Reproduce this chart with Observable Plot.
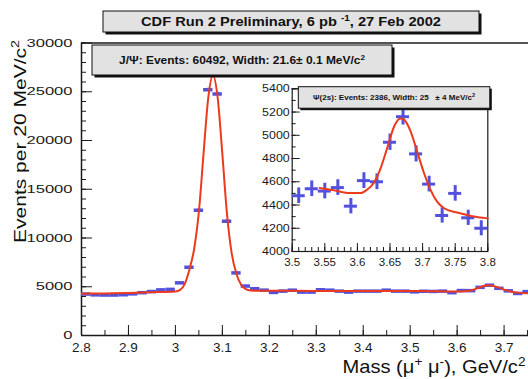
<!DOCTYPE html>
<html><head><meta charset="utf-8">
<script src="https://cdn.jsdelivr.net/npm/d3@7"></script>
<script src="https://cdn.jsdelivr.net/npm/@observablehq/plot@0.6"></script>
<style>
html,body{margin:0;padding:0;background:#fff;overflow:hidden;}
#wrap{position:relative;width:528px;height:379px;overflow:hidden;}
</style></head><body><div id="wrap"></div>
<script>
// ---- data ----
const massBins = [2.81,2.83,2.85,2.87,2.89,2.91,2.93,2.95,2.97,2.99,
  3.01,3.03,3.05,3.07,3.09,3.11,3.13,3.15,3.17,3.19,
  3.21,3.23,3.25,3.27,3.29,3.31,3.33,3.35,3.37,3.39,
  3.41,3.43,3.45,3.47,3.49,3.51,3.53,3.55,3.57,3.59,
  3.61,3.63,3.65,3.67,3.69,3.71,3.73,3.75,3.77,3.79];
const counts = [4250,4170,4150,4150,4180,4270,4390,4510,4680,4730,
  5400,7000,12850,25200,24780,11730,6420,5070,4800,4650,
  4420,4550,4650,4450,4450,4690,4650,4550,4450,4550,
  4550,4550,4650,4550,4550,4480,4540,4520,4550,4390,
  4610,4600,4940,5160,4840,4580,4310,4500,4290,4200];
const halfBin = 0.01;

// fit curve: J/psi region, then psi(2S) region
const jpsiFitMass = [2.80,2.85,2.90,2.95,3.00,3.01,3.02,3.03,3.04,3.05,3.06,3.07,3.08,3.09,3.10,3.11,3.12,3.13,3.14,3.15,3.16,3.18,3.25,3.35,3.45,3.52];
const jpsiFitVal  = [4280,4320,4370,4440,4520,4680,5300,6800,8900,12700,18700,24400,26700,24400,18600,12400,8400,6300,5200,4750,4620,4590,4580,4570,4560,4555];
const psiFitMass = [3.542,3.564,3.589,3.605,3.615,3.625,3.635,3.646,3.656,3.666,3.671,3.681,3.692,3.702,3.712,3.722,3.733,3.753,3.774,3.80];
const psiFitVal  = [4547,4527,4503,4503,4533,4590,4707,4896,5071,5144,5138,5042,4853,4678,4533,4431,4372,4335,4306,4285];

// ticks
const xMajor = [2.8,2.9,3.0,3.1,3.2,3.3,3.4,3.5,3.6,3.7];
const yMajor = [0,5000,10000,15000,20000,25000,30000];
const insetXMajor = [3.5,3.55,3.6,3.65,3.7,3.75,3.8];
const insetYMajor = [4000,4200,4400,4600,4800,5000,5200,5400];

// texts
const titleParts = ["CDF Run 2 Preliminary, 6 pb ", {sup:"-1"}, ", 27 Feb 2002"];
const statParts = ["J/\u03A8: Events: 60492, Width: 21.6\u00B1 0.1 MeV/c", {sup:"2"}];
const insetStatParts = ["\u03A8(2s): Events: 2386, Width: 25   \u00B1 4 MeV/c", {sup:"2"}];
const yTitleParts = ["Events per 20 MeV/c", {sup:"2"}];
const xTitleParts = ["Mass (\u03BC", {sup:"+"}, " \u03BC", {sup:"-"}, "), GeV/c", {sup:"2"}];

const FONT = "'Liberation Sans', Arial, Helvetica, sans-serif";
const BLUE = "#5252dc";
const RED = "#ec3a1c";
const INK = "#1a1a1a";
const BOXFILL = "#e2e2e2";

const pts = massBins.map((m, i) => ({m, n: counts[i], e: Math.sqrt(counts[i])}));
const fitAll = jpsiFitMass.map((m, i) => ({m, v: jpsiFitVal[i]}))
  .concat(psiFitMass.map((m, i) => ({m, v: psiFitVal[i]})));
const psiFit = psiFitMass.map((m, i) => ({m, v: psiFitVal[i]}));
const psiPts = pts.filter(d => d.m > 3.5 && d.m < 3.8);

const yMinor = d3.range(0, 30001, 1000);
const xMinor = d3.range(0, 20).map(i => 2.8 + i * 0.05);
const insetYMinor = d3.range(4000, 5401, 100);
const insetXMinor = d3.range(0, 31).map(i => 3.5 + i * 0.01);

// ---- main plot ----
const main = Plot.plot({
  width: 528, height: 379,
  marginLeft: 81, marginRight: 0, marginTop: 42.5, marginBottom: 44,
  x: {domain: [2.8, 3.752], axis: null},
  y: {domain: [0, 30000], axis: null},
  style: {fontFamily: FONT, background: "#fff", color: INK, overflow: "hidden"},
  marks: [
    Plot.axisY(yMinor, {tickSize: -5, fill: "none", stroke: INK, label: null}),
    Plot.axisY(yMajor, {tickSize: -11, fill: "none", stroke: INK, label: null}),
    Plot.axisY(yMajor, {tickSize: 0, tickPadding: 9, fontSize: 11.5, tickFormat: d => String(d), label: null}),
    Plot.axisX(xMinor, {tickSize: -5, fill: "none", stroke: INK, label: null}),
    Plot.axisX(xMajor, {tickSize: -10, fill: "none", stroke: INK, label: null}),
    Plot.axisX(xMajor, {tickSize: 0, tickPadding: 6.5, fontSize: 13.5, tickFormat: d => String(d), label: null}),
    Plot.ruleX([2.8], {stroke: INK, strokeWidth: 1.5}),
    Plot.ruleY([0, 30000], {stroke: INK, strokeWidth: 1.5}),
    Plot.ruleY(pts, {y: "n", x1: d => d.m - halfBin, x2: d => d.m + halfBin, stroke: BLUE, strokeWidth: 3.5, clip: true}),
    Plot.ruleX(pts, {x: "m", y1: d => d.n - d.e, y2: d => d.n + d.e, stroke: BLUE, strokeWidth: 3, clip: true}),
    Plot.line(fitAll, {x: "m", y: "v", stroke: RED, strokeWidth: 2, curve: "monotone-x", clip: true})
  ]
});

// ---- inset plot ----
const inset = Plot.plot({
  width: 240, height: 200,
  marginLeft: 36.7, marginRight: 7.7, marginTop: 8.3, marginBottom: 29,
  x: {domain: [3.5, 3.8], axis: null},
  y: {domain: [4000, 5400], axis: null},
  style: {fontFamily: FONT, background: "#fff", color: INK, overflow: "visible"},
  marks: [
    Plot.axisY(insetYMinor, {tickSize: -4, fill: "none", stroke: INK, label: null}),
    Plot.axisY(insetYMajor, {tickSize: -8, fill: "none", stroke: INK, label: null}),
    Plot.axisY(insetYMajor, {tickSize: 0, tickPadding: 2.5, fontSize: 11, tickFormat: d => String(d), label: null}),
    Plot.axisX(insetXMinor, {tickSize: -4, fill: "none", stroke: INK, label: null}),
    Plot.axisX(insetXMajor, {tickSize: -8, fill: "none", stroke: INK, label: null}),
    Plot.axisX(insetXMajor, {tickSize: 0, tickPadding: 6, fontSize: 11.5, tickFormat: d => String(d), label: null}),
    Plot.frame({stroke: INK, strokeWidth: 1.2}),
    Plot.ruleY(psiPts, {y: "n", x1: d => d.m - halfBin, x2: d => d.m + halfBin, stroke: BLUE, strokeWidth: 3}),
    Plot.ruleX(psiPts, {x: "m", y1: d => d.n - d.e, y2: d => d.n + d.e, stroke: BLUE, strokeWidth: 3}),
    Plot.line(psiFit, {x: "m", y: "v", stroke: RED, strokeWidth: 2, curve: "monotone-x"})
  ]
});

const wrap = document.getElementById("wrap");
wrap.appendChild(main);
inset.style.position = "absolute";
inset.style.left = "255px";
inset.style.top = "80px";
wrap.appendChild(inset);

// ---- rich text helper ----
function rich(t, parts, fs) {
  let up = false;
  parts.forEach(p => {
    if (typeof p === "string") {
      const s = t.append("tspan").text(p);
      if (up) { s.attr("dy", fs * 0.38); up = false; }
    } else {
      t.append("tspan").attr("dy", -fs * 0.38).attr("font-size", fs * 0.68).text(p.sup);
      up = true;
    }
  });
}
function box(svgSel, x, y, w, h, parts, fs, tl, sh) {
  const g = svgSel.append("g");
  g.append("rect").attr("x", x + sh).attr("y", y + sh).attr("width", w).attr("height", h).attr("fill", "#111");
  g.append("rect").attr("x", x).attr("y", y).attr("width", w).attr("height", h)
    .attr("fill", BOXFILL).attr("stroke", "#111").attr("stroke-width", 1);
  const t = g.append("text").attr("x", x + w / 2).attr("y", y + h / 2 + fs * 0.36)
    .attr("text-anchor", "middle").attr("font-size", fs).attr("font-weight", "bold")
    .attr("font-family", FONT).attr("fill", "#111")
    .attr("textLength", tl).attr("lengthAdjust", "spacingAndGlyphs").style("white-space", "pre");
  rich(t, parts, fs);
}

const ms = d3.select(main);
// stretch y tick labels like the reference
ms.selectAll('g[aria-label="y-axis tick label"] text').each(function() {
  const s = this.textContent;
  this.setAttribute("textLength", s.length * 9.2);
  this.setAttribute("lengthAdjust", "spacingAndGlyphs");
});
box(ms, 103, 11, 376, 21, titleParts, 12.5, 300, 2.5);
box(ms, 92, 45, 300, 30, statParts, 10.5, 246, 2.5);

// axis titles
const yt = ms.append("text").attr("transform", "translate(25.5,40) rotate(-90)")
  .attr("text-anchor", "end").attr("font-size", 16.5).attr("font-family", FONT).attr("fill", "#111")
  .attr("textLength", 203).attr("lengthAdjust", "spacingAndGlyphs");
rich(yt, yTitleParts, 16.5);
const xt = ms.append("text").attr("x", 342.5).attr("y", 373)
  .attr("text-anchor", "start").attr("font-size", 18.5).attr("font-family", FONT).attr("fill", "#111")
  .attr("textLength", 183).attr("lengthAdjust", "spacingAndGlyphs");
rich(xt, xTitleParts, 18.5);

const is = d3.select(inset);
is.selectAll('g[aria-label="y-axis tick label"] text').each(function() {
  this.setAttribute("textLength", this.textContent.length * 6.9);
  this.setAttribute("lengthAdjust", "spacingAndGlyphs");
});
box(is, 43.3, 6.7, 191.5, 21.5, insetStatParts, 7.2, 162, 2);
</script></body></html>
